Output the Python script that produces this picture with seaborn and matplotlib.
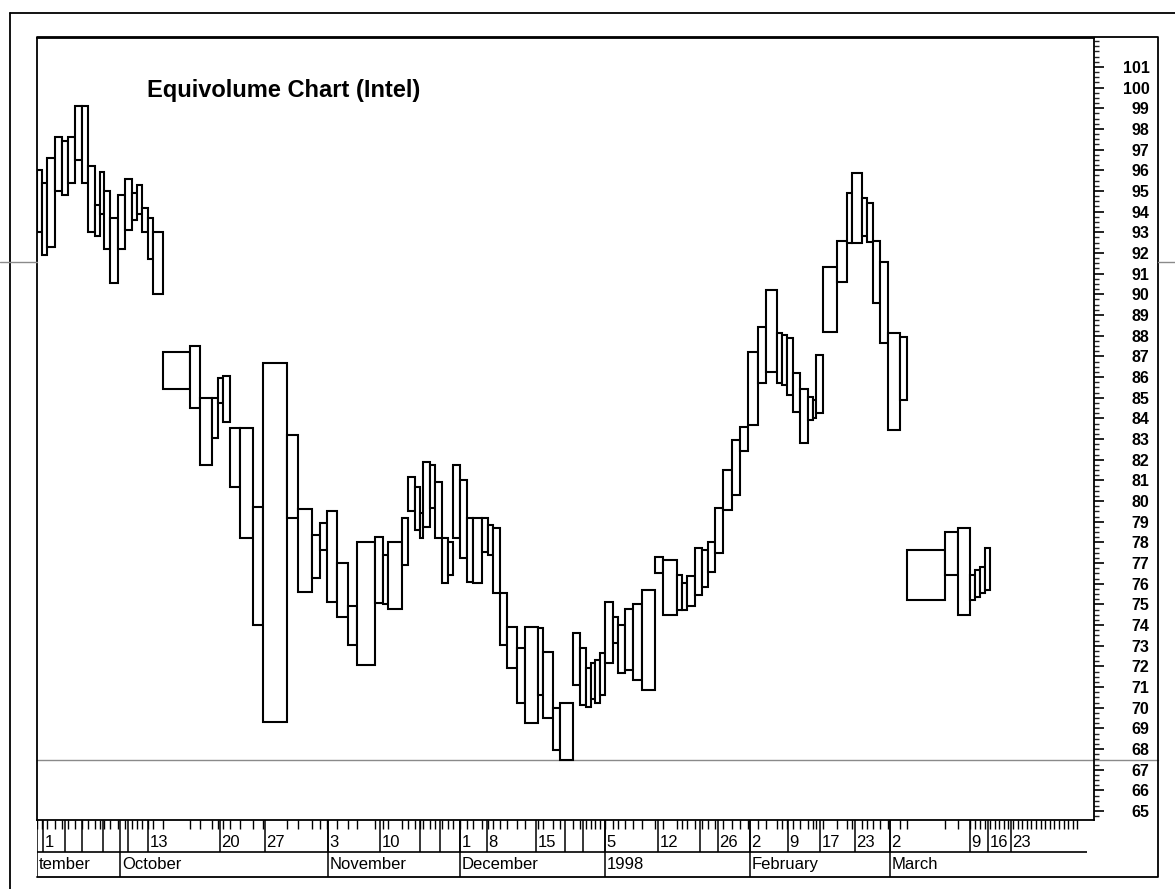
import numpy as np
import pandas as pd
import matplotlib
matplotlib.use("Agg")
import matplotlib.pyplot as plt
import seaborn as sns
from matplotlib.lines import Line2D
from matplotlib.ticker import MultipleLocator

# ------------------------------------------------------------
# Dados: um box por pregão (máxima, mínima, volume = largura)
# ------------------------------------------------------------
high = [96.0, 95.4, 96.6, 97.6, 97.4, 97.6, 99.1, 99.1, 96.2, 94.3,
        95.9, 95.0, 93.7, 94.8, 95.6, 94.9, 95.3, 94.2, 93.7, 93.0,
        87.2, 87.5, 85.0, 85.0, 85.95, 86.05, 83.55, 83.55, 79.7, 86.7,
        83.2, 79.6, 78.35, 78.95, 79.5, 77.0, 74.9, 78.0, 78.25, 77.4,
        78.0, 79.2, 81.15, 80.7, 79.4, 81.9, 81.75, 80.9, 78.2, 78.0,
        81.75, 81.0, 79.2, 79.2, 79.2, 78.85, 78.7, 75.55, 73.9, 72.9,
        73.9, 73.85, 72.7, 70.0, 70.25, 73.6, 72.9, 71.9, 72.15, 72.3,
        72.65, 75.1, 74.4, 74.0, 74.8, 75.0, 75.7, 77.3, 77.15, 76.4,
        76.05, 76.35, 77.75, 77.65, 78.0, 79.65, 81.5, 82.95, 83.6, 87.2,
        88.4, 90.2, 88.15, 88.05, 87.9, 86.2, 85.4, 85.05, 84.9, 87.05,
        91.3, 92.6, 94.9, 95.85, 94.65, 94.4, 92.6, 91.55, 88.15, 87.95,
        77.65, 78.5, 78.7, 76.4, 76.65, 76.8, 77.75]
low = [93.0, 91.9, 92.3, 95.0, 94.8, 95.4, 96.5, 95.4, 93.0, 92.8,
       93.9, 92.2, 90.55, 92.2, 93.1, 93.6, 93.9, 93.0, 91.7, 90.0,
       85.4, 84.5, 81.75, 83.05, 84.75, 83.8, 80.7, 78.2, 74.0, 69.3,
       79.2, 75.6, 76.3, 77.65, 75.1, 74.4, 73.05, 72.05, 75.05, 75.0,
       74.8, 76.9, 79.5, 78.6, 78.2, 78.75, 79.65, 78.2, 76.05, 76.4,
       78.2, 77.25, 76.1, 76.05, 77.55, 77.4, 75.55, 73.05, 71.9, 70.25,
       69.25, 70.6, 69.5, 67.95, 67.45, 71.1, 70.15, 70.05, 70.4, 70.25,
       70.6, 72.15, 73.15, 71.7, 71.85, 71.35, 70.85, 76.5, 74.5, 74.75,
       74.75, 74.9, 75.45, 75.85, 76.55, 77.5, 79.55, 80.3, 82.4, 83.7,
       85.7, 86.25, 85.7, 85.6, 85.15, 84.3, 82.8, 83.9, 84.0, 84.25,
       88.2, 90.6, 92.5, 92.5, 92.8, 92.55, 89.6, 87.65, 83.45, 84.9,
       75.2, 76.4, 74.5, 75.2, 75.35, 75.55, 75.7]
volume = [5, 5, 8, 7, 6, 7, 7, 6, 7, 5,
          4, 6, 8, 7, 7, 5, 5, 6, 5, 10,
          27, 10, 12, 6, 5, 7, 10, 13, 10, 24,
          11, 14, 8, 7, 10, 11, 9, 18, 8, 5,
          14, 6, 7, 5, 3, 7, 5, 7, 6, 5,
          7, 7, 6, 9, 6, 5, 7, 7, 10, 8,
          13, 5, 10, 7, 13, 7, 6, 5, 4, 5,
          5, 8, 5, 7, 8, 9, 13, 8, 14, 5,
          5, 8, 7, 6, 7, 8, 9, 8, 8, 10,
          8, 11, 5, 5, 6, 7, 8, 5, 3, 7,
          14, 10, 5, 10, 5, 6, 7, 8, 12, 7,
          38, 13, 12, 5, 5, 5, 5]

min_low = 67.45  # linha da mínima do período

# eixo de datas (posição no volume acumulado)
week_pos = [6, 28, 45, 66, 91, 111, 183, 228, 291, 343, 383, 403, 423, 450,
            499, 528, 546, 568, 621, 663, 681, 713, 751, 783, 818, 853, 933, 951, 974]
week_lab = ["1", "", "", "", "", "13", "20", "27", "3", "10", "", "", "1", "8",
            "15", "", "", "5", "12", "", "26", "2", "9", "17", "23", "2", "9", "16", "23"]
month_pos = [0, 83, 291, 423, 568, 713, 853]
month_lab = ["tember", "October", "November", "December", "1998", "February", "March"]

y_ticks = list(range(65, 102))

# ------------------------------------------------------------
# Montagem
# ------------------------------------------------------------
df = pd.DataFrame({"high": high, "low": low, "volume": volume})
df["left"] = df["volume"].cumsum() - df["volume"]

sns.set_style("white")
plt.rcParams["font.family"] = ["Liberation Sans", "DejaVu Sans"]
plt.rcParams["text.color"] = "black"

W, H = 1175, 889
fig = plt.figure(figsize=(W / 100, H / 100), dpi=100)

x0, x1, y_top, y_bot = 37, 1094, 38, 820
ax = fig.add_axes([x0 / W, 1 - y_bot / H, (x1 - x0) / W, (y_bot - y_top) / H])

ax.bar(df["left"], df["high"] - df["low"], width=df["volume"], bottom=df["low"],
       align="edge", color="white", edgecolor="black", linewidth=1.5, zorder=3)

ax.set_xlim(0, x1 - x0)
ax.set_ylim(64.57, 102.4)
ax.axhline(min_low, xmin=0, xmax=(1158 - x0) / (x1 - x0), color="#8a8a8a",
           linewidth=1.0, clip_on=False, zorder=1)

ax.set_xticks([])
ax.yaxis.tick_right()
ax.set_yticks(y_ticks)
ax.yaxis.set_minor_locator(MultipleLocator(0.25))
ax.tick_params(axis="y", which="major", direction="out", length=7, width=1.2,
               pad=33, labelsize=11.5, colors="black")
ax.tick_params(axis="y", which="minor", direction="out", length=3.5, width=1.0)
for lab in ax.get_yticklabels():
    lab.set_horizontalalignment("right")
    lab.set_fontweight("bold")
for s in ax.spines.values():
    s.set_color("black")
    s.set_linewidth(1.3)

ax.text(110, 99.85, "Equivolume Chart (Intel)", fontsize=17, fontweight="bold",
        ha="left", va="center", color="black")

# faixa de datas
y_strip_bot = 877
axd = fig.add_axes([x0 / W, 1 - y_strip_bot / H, (x1 - x0) / W, (y_strip_bot - y_bot) / H])
axd.set_xlim(0, x1 - x0)
axd.set_ylim(0, 1)
axd.axis("off")

edges = np.concatenate([[0], df["volume"].cumsum().values])
future = edges[-1] + np.arange(1, 20) * 4.6
day_edges = np.concatenate([edges, future[future < 1050]])
axd.vlines(day_edges, 0.84, 1.0, color="black", linewidth=1.0)
axd.vlines(week_pos, 0.44, 1.0, color="black", linewidth=1.1)
axd.vlines(month_pos, 0.0, 1.0, color="black", linewidth=1.1)
axd.hlines(0.44, 0, 1050, color="black", linewidth=1.2)
for p, t in zip(week_pos, week_lab):
    if t:
        axd.text(p + 1.5, 0.6, t, fontsize=12, ha="left", va="center", color="black")
for p, t in zip(month_pos, month_lab):
    axd.text(p + 2, 0.22, t, fontsize=12, ha="left", va="center", color="black")

# molduras
def fig_line(xs, ys, lw=1.3, color="black"):
    fig.add_artist(Line2D([x / W for x in xs], [1 - y / H for y in ys],
                          color=color, linewidth=lw))

fig_line([37, 1158, 1158, 37], [37, 37, 877, 877])
fig_line([10, 1175], [13, 13])
fig_line([10, 10], [13, 889])
fig_line([0, 37], [262, 262], lw=1.0, color="#8a8a8a")
fig_line([1158, 1175], [262, 262], lw=1.0, color="#8a8a8a")

fig.savefig("out.png", dpi=100)
